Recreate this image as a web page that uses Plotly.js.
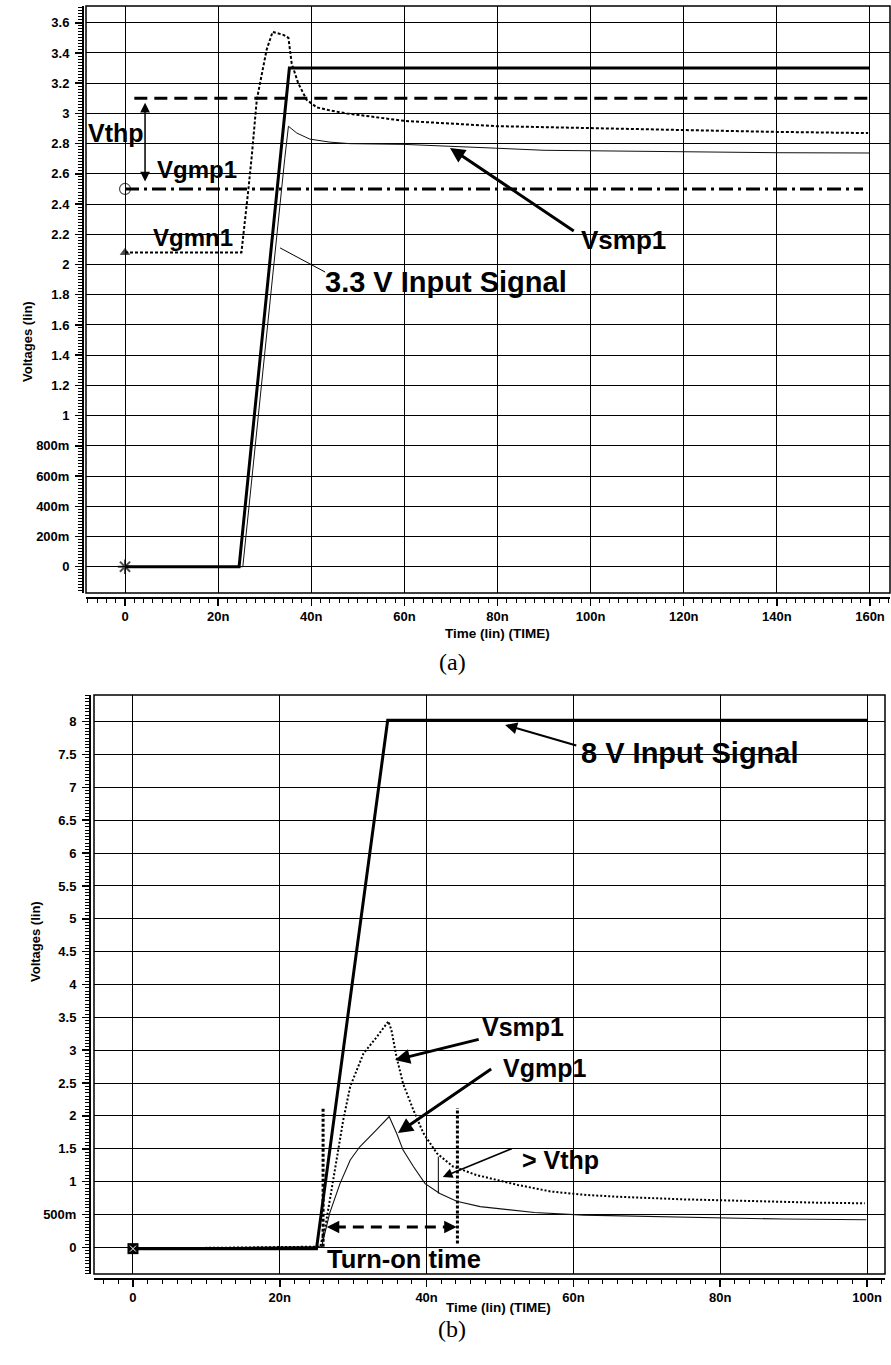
<!DOCTYPE html>
<html>
<head>
<meta charset="utf-8">
<script src="https://cdn.plot.ly/plotly-3.0.1.min.js"></script>
<style>html,body{margin:0;padding:0;background:#fff}#chart{width:891px;height:1365px}</style>
</head>
<body>
<div id="chart"></div>
<script>
// ---------- DATA: panel (a), time in ns, voltages in V ----------
const aInputT  = [0, 24.5, 35.3, 160];
const aInputV  = [0, 0, 3.3, 3.3];
const aVthpT   = [2, 160];
const aVthpV   = [3.1, 3.1];
const aVgmp1T  = [0, 158.5];
const aVgmp1V  = [2.5, 2.5];
const aVgmn1T  = [0, 25.0, 26.4, 27.2, 28.3, 29.0, 30.4, 31.7, 34.0, 35.1, 35.8, 37.2, 39.0, 41.2, 44.0, 47.6, 60.2, 79.6, 100.6, 120, 139.4, 159.6];
const aVgmn1V  = [2.08, 2.08, 2.47, 2.71, 3.09, 3.2, 3.42, 3.54, 3.52, 3.50, 3.33, 3.2, 3.09, 3.04, 3.02, 3.0, 2.95, 2.916, 2.90, 2.89, 2.878, 2.87];
const aVsmp1T  = [0, 25.3, 34.3, 35.1, 36.9, 39.7, 44, 48.3, 60, 70, 79.6, 90, 104.6, 120, 140, 160];
const aVsmp1V  = [0, 0, 2.7, 2.915, 2.87, 2.83, 2.81, 2.80, 2.795, 2.78, 2.77, 2.756, 2.75, 2.745, 2.74, 2.738];
const aStartT  = [0, 0, 0];
const aStartV  = [0, 2.5, 2.08];
const aXTickVals = [0, 20, 40, 60, 80, 100, 120, 140, 160];
const aXTickText = ['0', '20n', '40n', '60n', '80n', '100n', '120n', '140n', '160n'];
const aYTickVals = [0, 0.2, 0.4, 0.6, 0.8, 1, 1.2, 1.4, 1.6, 1.8, 2, 2.2, 2.4, 2.6, 2.8, 3, 3.2, 3.4, 3.6];
const aYTickText = ['0', '200m', '400m', '600m', '800m', '1', '1.2', '1.4', '1.6', '1.8', '2', '2.2', '2.4', '2.6', '2.8', '3', '3.2', '3.4', '3.6'];

// ---------- DATA: panel (b) ----------
const bInputT  = [0, 25, 34.7, 100];
const bInputV  = [-0.02, -0.02, 8.02, 8.02];
const bVsmp1T  = [0, 25.5, 26.2, 26.8, 27.75, 28.65, 29.6, 31.4, 33.2, 34.8, 35.2, 35.9, 36.8, 38.2, 39.55, 41.4, 43.6, 46.8, 52.4, 56.9, 61.4, 65.9, 75, 84, 93.1, 99.7];
const bVsmp1V  = [-0.02, 0.01, 0.31, 0.72, 1.33, 1.94, 2.45, 2.95, 3.2, 3.44, 3.31, 2.90, 2.49, 2.09, 1.74, 1.43, 1.23, 1.10, 0.95, 0.85, 0.80, 0.77, 0.73, 0.70, 0.68, 0.67];
const bVgmp1T  = [0, 25.7, 26.8, 28.2, 29.6, 30.9, 33.2, 34.9, 35.9, 36.8, 38.2, 39.8, 41.8, 44.1, 47.3, 54.7, 61.4, 70.5, 79.5, 88.6, 99.9];
const bVgmp1V  = [-0.02, 0.01, 0.52, 0.97, 1.33, 1.53, 1.79, 1.99, 1.74, 1.48, 1.23, 0.97, 0.82, 0.70, 0.62, 0.53, 0.49, 0.47, 0.44, 0.43, 0.42];
const bStartT  = [0];
const bStartV  = [-0.02];
const bTurnOnT = [25.9, 44.2];
const bXTickVals = [0, 20, 40, 60, 80, 100];
const bXTickText = ['0', '20n', '40n', '60n', '80n', '100n'];
const bYTickVals = [0, 0.5, 1, 1.5, 2, 2.5, 3, 3.5, 4, 4.5, 5, 5.5, 6, 6.5, 7, 7.5, 8];
const bYTickText = ['0', '500m', '1', '1.5', '2', '2.5', '3', '3.5', '4', '4.5', '5', '5.5', '6', '6.5', '7', '7.5', '8'];

// ---------- STYLE ----------
const W = 891, H = 1365;
const SANS = 'Liberation Sans, Arial, sans-serif';
const tickFont = {family: SANS, size: 13, color: '#000', weight: 'bold'};
const px = v => v / W;
const py = v => 1 - v / H;

function xAxis(domain, range, pos, vals, text) {
  return {domain, range, anchor: 'free', position: pos, tickmode: 'array', tickvals: vals, ticktext: text,
    ticks: 'outside', ticklen: 7, tickwidth: 1.5, tickcolor: '#000', showline: true, linecolor: '#000', linewidth: 1.5,
    showgrid: true, gridcolor: '#000', gridwidth: 1, zeroline: false, tickfont: tickFont, automargin: false,
    minor: {dtick: 2, tick0: 0, ticks: 'outside', ticklen: 4, tickwidth: 1, tickcolor: '#000', showgrid: false}, fixedrange: true};
}
function yAxis(domain, range, pos, vals, text, mdt) {
  return {domain, range, anchor: 'free', position: pos, tickmode: 'array', tickvals: vals, ticktext: text,
    ticks: 'outside', ticklen: 7, tickwidth: 1.5, tickcolor: '#000', showline: true, linecolor: '#000', linewidth: 1.5,
    showgrid: true, gridcolor: '#000', gridwidth: 1, zeroline: false, tickfont: tickFont, automargin: false,
    ticklabelstandoff: 3,
    minor: {dtick: mdt, tick0: 0, ticks: 'outside', ticklen: 4, tickwidth: 1, tickcolor: '#000', showgrid: false}, fixedrange: true};
}

const traces = [
  // panel (a)
  {x: aVthpT, y: aVthpV, xaxis: 'x', yaxis: 'y', mode: 'lines', line: {color: '#000', width: 3, dash: '13px,7px'}},
  {x: aVgmp1T, y: aVgmp1V, xaxis: 'x', yaxis: 'y', mode: 'lines', line: {color: '#000', width: 3, dash: '14px,5px,3px,5px'}},
  {x: aVsmp1T, y: aVsmp1V, xaxis: 'x', yaxis: 'y', mode: 'lines', line: {color: '#111', width: 1}},
  {x: aVgmn1T, y: aVgmn1V, xaxis: 'x', yaxis: 'y', mode: 'lines', line: {color: '#000', width: 2, dash: '3px,2px'}},
  {x: aInputT, y: aInputV, xaxis: 'x', yaxis: 'y', mode: 'lines', line: {color: '#000', width: 3}},
  {x: aStartT, y: aStartV, xaxis: 'x', yaxis: 'y', mode: 'markers',
   marker: {symbol: ['asterisk-open', 'circle-open', 'triangle-up'], size: [12, 11, 8], color: '#000', line: {color: '#000', width: [2, 1.2, 1]}}},
  // panel (b)
  {x: bVgmp1T, y: bVgmp1V, xaxis: 'x2', yaxis: 'y2', mode: 'lines', line: {color: '#111', width: 1.1}},
  {x: bVsmp1T, y: bVsmp1V, xaxis: 'x2', yaxis: 'y2', mode: 'lines', line: {color: '#000', width: 2, dash: '2px,2px'}},
  {x: bInputT, y: bInputV, xaxis: 'x2', yaxis: 'y2', mode: 'lines', line: {color: '#000', width: 3}},
  {x: bStartT, y: bStartV, xaxis: 'x2', yaxis: 'y2', mode: 'markers', marker: {symbol: 'square', size: 11, color: '#000'}},
  {x: bStartT, y: bStartV, xaxis: 'x2', yaxis: 'y2', mode: 'markers', marker: {symbol: 'x-thin-open', size: 6, color: '#fff', line: {color: '#fff', width: 1}}}
];

const shapes = [
  {type: 'rect', xref: 'x domain', yref: 'y domain', x0: 0, x1: 1, y0: 0, y1: 1, line: {color: '#000', width: 1.5}, layer: 'above'},
  {type: 'rect', xref: 'x2 domain', yref: 'y2 domain', x0: 0, x1: 1, y0: 0, y1: 1, line: {color: '#000', width: 1.5}, layer: 'above'},
  // (a) leader line for 3.3 V input label
  {type: 'line', xref: 'x', yref: 'y', x0: 33.3, y0: 2.11, x1: 43.0, y1: 1.95, line: {color: '#000', width: 1}},
  // (b) turn-on time markers
  {type: 'line', xref: 'x2', yref: 'y2', x0: bTurnOnT[0], x1: bTurnOnT[0], y0: 0.01, y1: 2.14, line: {color: '#000', width: 3, dash: '3px,2px'}},
  {type: 'line', xref: 'x2', yref: 'y2', x0: bTurnOnT[1], x1: bTurnOnT[1], y0: 0.06, y1: 2.12, line: {color: '#000', width: 3, dash: '3px,2px'}},
  {type: 'line', xref: 'x2', yref: 'y2', x0: 27.5, x1: 43.0, y0: 0.31, y1: 0.31, line: {color: '#000', width: 3, dash: '11px,7px'}},
  {type: 'line', xref: 'x2', yref: 'y2', x0: 41.6, x1: 41.6, y0: 0.82, y1: 1.38, line: {color: '#000', width: 1}}
];

const lab = (text, x, y, xref, yref, size) => ({text, x, y, xref, yref, showarrow: false, xanchor: 'center', yanchor: 'middle',
  font: {family: SANS, size: size, color: '#000', weight: 'bold'}});
const arrow = (x, y, ax, ay, xref, yref, w, extra) => Object.assign({text: '', x, y, ax, ay, xref, yref, axref: xref, ayref: yref,
  showarrow: true, arrowhead: 2, arrowsize: 1, arrowwidth: w, arrowcolor: '#000'}, extra || {});

const annotations = [
  // panel (a)
  lab('Vthp', -1.9, 2.87, 'x', 'y', 25),
  lab('Vgmp1', 15.5, 2.63, 'x', 'y', 24),
  lab('Vgmn1', 14.6, 2.18, 'x', 'y', 24),
  lab('Vsmp1', 107, 2.165, 'x', 'y', 26),
  lab('3.3 V Input Signal', 69, 1.885, 'x', 'y', 29),
  arrow(4.3, 3.07, 4.3, 2.54, 'x', 'y', 1.5, {arrowside: 'end+start', arrowsize: 1.3}),
  arrow(69.8, 2.772, 96.7, 2.216, 'x', 'y', 3, {arrowsize: 1}),
  // panel (b)
  lab('8 V Input Signal', 75.9, 7.52, 'x2', 'y2', 29),
  lab('Vsmp1', 53.1, 3.35, 'x2', 'y2', 25),
  lab('Vgmp1', 56.0, 2.73, 'x2', 'y2', 25),
  lab('> Vthp', 58.2, 1.33, 'x2', 'y2', 25),
  lab('Turn-on time', 36.9, -0.18, 'x2', 'y2', 25.5),
  arrow(50.7, 7.95, 60.6, 7.63, 'x2', 'y2', 2, {arrowsize: 1.2}),
  arrow(35.7, 2.85, 47.3, 3.17, 'x2', 'y2', 3, {arrowsize: 1}),
  arrow(36.1, 1.74, 49.0, 2.73, 'x2', 'y2', 3, {arrowsize: 1}),
  arrow(42.2, 1.07, 51.8, 1.51, 'x2', 'y2', 1.5, {arrowsize: 1.3}),
  arrow(26.4, 0.31, 28.2, 0.31, 'x2', 'y2', 2.5, {arrowsize: 1}),
  arrow(44.1, 0.31, 42.3, 0.31, 'x2', 'y2', 2.5, {arrowsize: 1}),
  // axis titles and panel letters
  {text: 'Voltages (lin)', x: px(18), y: py(299), xref: 'paper', yref: 'paper', textangle: -90, showarrow: false,
   font: {family: SANS, size: 13, color: '#000', weight: 'bold'}},
  {text: 'Voltages (lin)', x: px(26), y: py(984), xref: 'paper', yref: 'paper', textangle: -90, showarrow: false,
   font: {family: SANS, size: 13, color: '#000', weight: 'bold'}},
  {text: 'Time (lin) (TIME)', x: px(497), y: py(633), xref: 'paper', yref: 'paper', showarrow: false,
   font: {family: SANS, size: 13.5, color: '#000', weight: 'bold'}},
  {text: 'Time (lin) (TIME)', x: px(498), y: py(1317), xref: 'paper', yref: 'paper', showarrow: false,
   font: {family: SANS, size: 13.5, color: '#000', weight: 'bold'}},
  {text: '(a)', x: px(452), y: py(662), xref: 'paper', yref: 'paper', showarrow: false,
   font: {family: 'Liberation Serif, Times New Roman, serif', size: 24, color: '#000'}},
  {text: '(b)', x: px(452), y: py(1344), xref: 'paper', yref: 'paper', showarrow: false,
   font: {family: 'Liberation Serif, Times New Roman, serif', size: 24, color: '#000'}}
];

const layout = {
  width: W, height: H, margin: {l: 0, r: 0, t: 0, b: 0},
  paper_bgcolor: '#fff', plot_bgcolor: '#fff', showlegend: false,
  xaxis: xAxis([px(86), px(890)], [-8.38, 164.3], py(597), aXTickVals, aXTickText),
  yaxis: yAxis([py(593), py(6)], [-0.174, 3.711], px(82), aYTickVals, aYTickText, 0.02),
  xaxis2: xAxis([px(94), px(885)], [-5.31, 102.45], py(1278), bXTickVals, bXTickText),
  yaxis2: yAxis([py(1274), py(695)], [-0.406, 8.406], px(89), bYTickVals, bYTickText, 0.05),
  shapes, annotations
};

Plotly.newPlot('chart', traces, layout, {staticPlot: true, displayModeBar: false});
</script>
</body>
</html>
